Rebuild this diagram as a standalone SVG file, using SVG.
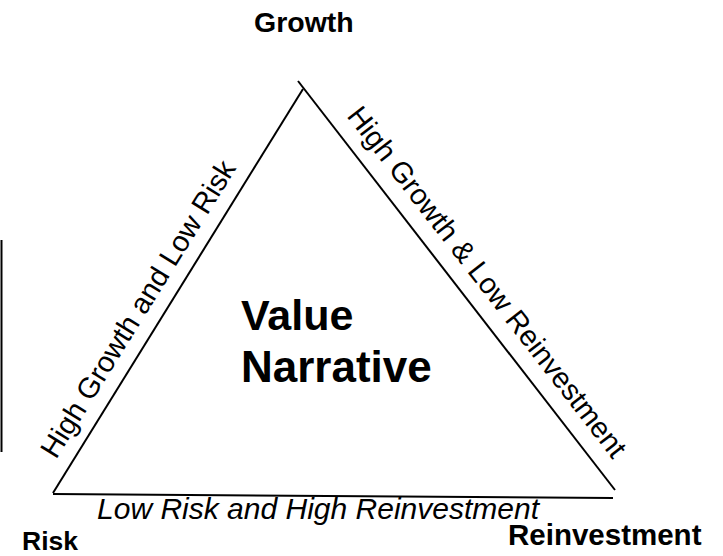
<svg xmlns="http://www.w3.org/2000/svg" width="723" height="556" viewBox="0 0 723 556">
<style>
.bg{fill:#fff}
.edge{stroke:#000;stroke-width:2;fill:none;stroke-linecap:butt}
.node{font-family:"Liberation Sans",Arial,Helvetica,sans-serif;font-weight:bold;fill:#000}
.lbl{font-family:"Liberation Sans",Arial,Helvetica,sans-serif;fill:#000;font-size:29px}
</style>
<rect class="bg" x="0" y="0" width="723" height="556"/>
<line class="edge" x1="1.5" y1="240" x2="1.5" y2="452"/>
<g id="connectors">
  <line class="edge" x1="53" y1="493" x2="303" y2="89"/>
  <line class="edge" x1="298" y1="81" x2="615" y2="490"/>
  <line class="edge" x1="53" y1="494" x2="613" y2="498"/>
  <text class="lbl" transform="translate(56,460) rotate(-58.25)" font-size="29.5">High Growth and Low Risk</text>
  <text class="lbl" transform="translate(346,116) rotate(52.2)">High Growth &amp; Low Reinvestment</text>
  <text class="lbl" x="97" y="519" font-style="italic" font-size="30.5" textLength="442" lengthAdjust="spacingAndGlyphs">Low Risk and High Reinvestment</text>
</g>
<g id="growth"><text class="node" x="254" y="32" font-size="28.5">Growth</text></g>
<g id="risk"><text class="node" x="22" y="550" font-size="26.5">Risk</text></g>
<g id="reinvestment"><text class="node" x="508" y="545" font-size="29.5">Reinvestment</text></g>
<g id="value-narrative">
  <text class="node" x="241" y="330" font-size="43">Value</text>
  <text class="node" x="241" y="382" font-size="44">Narrative</text>
</g>
</svg>
